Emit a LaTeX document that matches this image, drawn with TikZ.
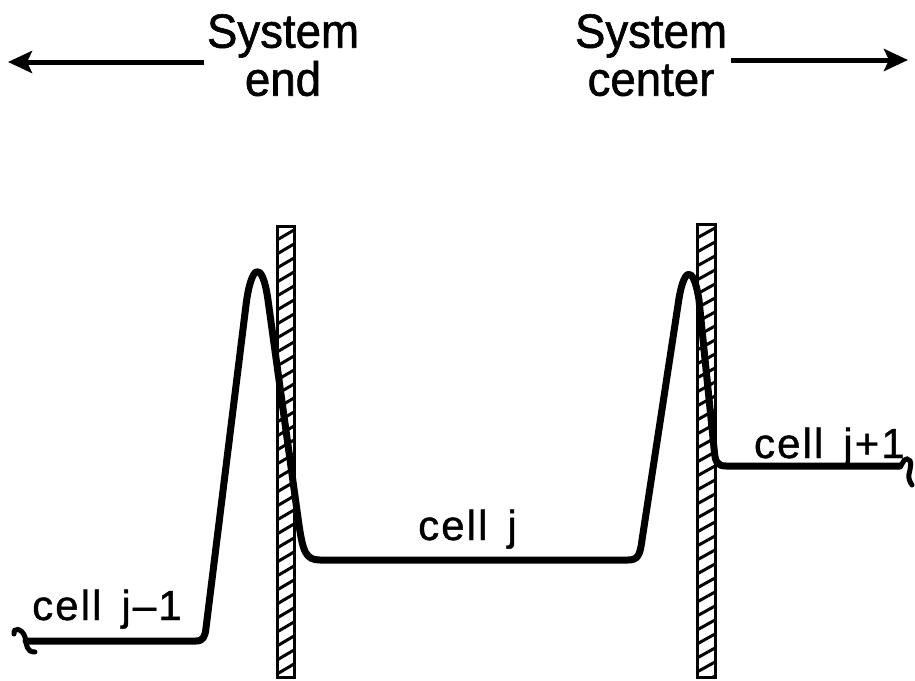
\documentclass[tikz,border=0pt]{standalone}
\usepackage{fontspec}
\setmainfont{Liberation Sans}
\newfontfamily\toplabelfont[FakeBold=1.2,FakeStretch=0.95]{Liberation Sans}
\newfontfamily\celllabelfont[FakeBold=1.0,LetterSpace=5]{Liberation Sans}
\usetikzlibrary{arrows.meta}
\begin{document}
\begin{tikzpicture}[x=1pt,y=-1pt,
  curve/.style={line width=7pt, line cap=round, line join=round},
  breakmark/.style={line width=5pt, line cap=round},
  wallbox/.style={line width=3pt},
  hatch/.style={line width=3pt},
  sysarrow/.style={line width=5pt, -{Stealth[length=24pt,width=22pt,inset=5pt]}},
  biglabel/.style={font=\toplabelfont\fontsize{48}{48}\selectfont, inner sep=0pt, anchor=north, align=center},
  celllabel/.style={font=\celllabelfont\fontsize{42}{46}\selectfont, inner sep=0pt}
]
\useasboundingbox (0,0) rectangle (915,680);

% top labels and arrows
\node[biglabel] (sysA) at (283,14) {System\\end};
\node[biglabel] (sysB) at (651,14) {System\\center};
\coordinate (lefttip) at (8,62);
\coordinate (righttip) at (908,60);
\draw[sysarrow, shorten <=3pt] (sysA.west |- lefttip) -- (lefttip);
\draw[sysarrow, shorten <=4pt] (sysB.east |- righttip) -- (righttip);

% walls
\begin{scope}
  \clip (277,226) rectangle (294,677);
  \foreach \k in {0,...,34} \draw[hatch] (277,240+14*\k) -- (294,230+14*\k);
\end{scope}
\draw[wallbox] (277,226) rectangle (294,677);
\begin{scope}
  \clip (697,224) rectangle (715,677);
  \foreach \k in {0,...,34} \draw[hatch] (697,238+14*\k) -- (715,228+14*\k);
\end{scope}
\draw[wallbox] (697,224) rectangle (715,677);

% potential curve
\draw[curve] (26,641) -- (196,641)
  .. controls (203,641) and (205,637) .. (206,628)
  -- (246,305)
  .. controls (251,265) and (262,258) .. (268,300)
  -- (299,525)
  .. controls (303,552) and (306,560) .. (320,560)
  -- (628,560)
  .. controls (638,560) and (640,555) .. (642,540)
  -- (678,305)
  .. controls (683,268) and (693,262) .. (699,300)
  -- (714,448)
  .. controls (715,462) and (717,466) .. (726,466)
  -- (900,466);
% break marks
\draw[breakmark] (14,634) .. controls (13,627) and (22,628) .. (25,637)
  .. controls (27,645) and (26,652) .. (35,652);
\draw[breakmark] (898,466) .. controls (904,466) and (902,459) .. (907,459)
  .. controls (913,459) and (910,470) .. (909,474)
  .. controls (908,478) and (910,482) .. (912,485);

% cell labels
\node[celllabel, anchor=base west] (cellA) at (32,620) {cell\hspace{20pt}j–1};
\node[celllabel, anchor=base west] (cellB) at (418,540) {cell\hspace{20pt}j};
\node[celllabel, anchor=base east] (cellC) at (905,458) {cell\hspace{20pt}j+1};
\end{tikzpicture}
\end{document}
